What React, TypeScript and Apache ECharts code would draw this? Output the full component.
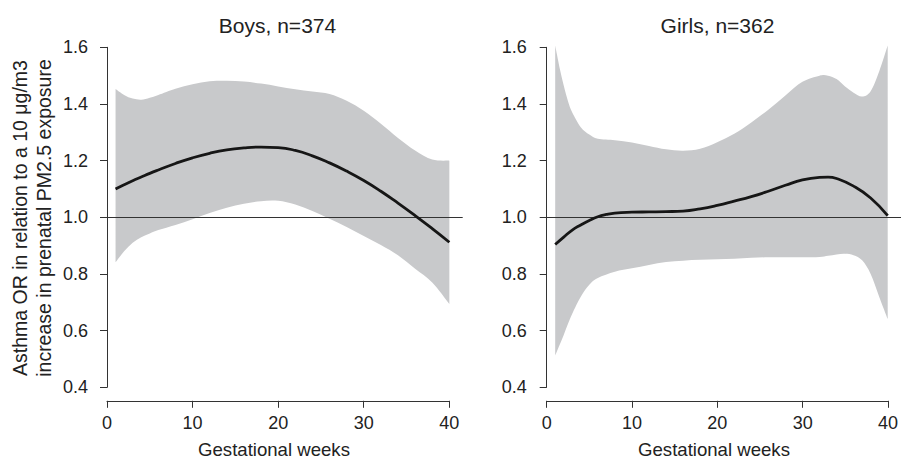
import React, { useEffect, useRef } from "react";
import * as echarts from "echarts";

// ---- Data ----
const boysWeeks = [1, 2, 3, 4, 5, 6, 8, 10, 12, 14, 16, 18, 20, 22, 24, 26, 28, 30, 32, 34, 36, 38, 40];
const boysUpper = [1.453, 1.432, 1.419, 1.415, 1.422, 1.432, 1.454, 1.47, 1.48, 1.482, 1.479, 1.472, 1.462, 1.452, 1.444, 1.435, 1.411, 1.376, 1.33, 1.28, 1.236, 1.204, 1.2];
const boysLower = [0.841, 0.88, 0.91, 0.93, 0.943, 0.955, 0.973, 0.993, 1.015, 1.034, 1.048, 1.057, 1.058, 1.045, 1.022, 0.995, 0.966, 0.934, 0.902, 0.866, 0.818, 0.77, 0.694];
const boysFit = [1.1, 1.115, 1.129, 1.142, 1.155, 1.167, 1.19, 1.21, 1.226, 1.238, 1.245, 1.248, 1.246, 1.236, 1.217, 1.192, 1.163, 1.13, 1.092, 1.05, 1.006, 0.96, 0.912];

const girlsBandWeeks = [1, 1.5, 2, 2.5, 3, 4, 5, 6, 8, 10, 12, 14, 16, 18, 20, 22, 24, 26, 28, 30, 32, 33, 34, 35, 36, 37, 38, 39, 40];
const girlsUpper = [1.606, 1.53, 1.465, 1.41, 1.37, 1.318, 1.292, 1.277, 1.272, 1.264, 1.252, 1.24, 1.235, 1.242, 1.265, 1.295, 1.335, 1.38, 1.43, 1.478, 1.5, 1.5, 1.488, 1.462, 1.44, 1.426, 1.445, 1.515, 1.606];
const girlsLower = [0.512, 0.548, 0.585, 0.624, 0.66, 0.72, 0.762, 0.786, 0.808, 0.82, 0.832, 0.842, 0.847, 0.85, 0.852, 0.854, 0.857, 0.859, 0.859, 0.859, 0.86, 0.864, 0.869, 0.871, 0.866, 0.848, 0.8, 0.72, 0.641];
const girlsFitWeeks = [1, 2, 3, 4, 5, 6, 7, 8, 10, 12, 14, 16, 18, 20, 22, 24, 26, 28, 30, 32, 33, 34, 36, 38, 40];
const girlsFit = [0.904, 0.93, 0.955, 0.973, 0.989, 1.002, 1.01, 1.015, 1.018, 1.019, 1.02, 1.022, 1.03, 1.042, 1.057, 1.073, 1.092, 1.113, 1.132, 1.141, 1.142, 1.137, 1.11, 1.068, 1.006];

const panelTitles = ["Boys, n=374", "Girls, n=362"];
const xAxisTitle = "Gestational weeks";
const yAxisTitle = "Asthma OR in relation to a 10 \u03bcg/m3\nincrease in prenatal PM2.5 exposure";
const referenceOR = 1.0;

const xTickMin = 0;
const xTickMax = 40;
const xTickStep = 10;
const yTickMin = 0.4;
const yTickMax = 1.6;
const yTickStep = 0.2;

const FONT = "Liberation Sans, Arial, Helvetica, sans-serif";
const TEXT = "#222";
const BAND = "#c8c9cb";

// Catmull-Rom spline through screen points, as cubic bezier commands
function splineCmds(pts: number[][]): string {
  let d = "";
  const n = pts.length;
  for (let i = 0; i < n - 1; i++) {
    const p0 = pts[Math.max(0, i - 1)];
    const p1 = pts[i];
    const p2 = pts[i + 1];
    const p3 = pts[Math.min(n - 1, i + 2)];
    const c1x = p1[0] + (p2[0] - p0[0]) / 6;
    const c1y = p1[1] + (p2[1] - p0[1]) / 6;
    const c2x = p2[0] - (p3[0] - p1[0]) / 6;
    const c2y = p2[1] - (p3[1] - p1[1]) / 6;
    d += ` C${c1x},${c1y} ${c2x},${c2y} ${p2[0]},${p2[1]}`;
  }
  return d;
}

function bandSeries(idx: number, weeks: number[], upper: number[], lower: number[]) {
  return {
    type: "custom",
    xAxisIndex: idx,
    yAxisIndex: idx,
    z: 1,
    silent: true,
    data: [[weeks[0], upper[0]]],
    renderItem: (_p: any, api: any) => {
      const up = weeks.map((w, i) => api.coord([w, upper[i]]));
      const lo = weeks.map((w, i) => api.coord([w, lower[i]])).reverse();
      const d =
        `M${up[0][0]},${up[0][1]}` +
        splineCmds(up) +
        ` L${lo[0][0]},${lo[0][1]}` +
        splineCmds(lo) +
        " Z";
      return { type: "path", shape: { pathData: d }, style: { fill: BAND, stroke: null } };
    },
  };
}

function fitSeries(idx: number, weeks: number[], fit: number[]) {
  return {
    type: "line",
    xAxisIndex: idx,
    yAxisIndex: idx,
    z: 3,
    smooth: 0.5,
    showSymbol: false,
    silent: true,
    data: weeks.map((w, i) => [w, fit[i]]),
    lineStyle: { color: "#161616", width: 2.8 },
    markLine: {
      silent: true,
      symbol: ["none", "none"],
      label: { show: false },
      lineStyle: { color: "#333", width: 1.2, type: "solid" },
      data: [{ yAxis: referenceOR }],
      z: 2,
    },
  };
}

function hiddenX(grid: number) {
  return { gridIndex: grid, type: "value", min: -0.56, max: 41.56, show: false };
}
function hiddenY(grid: number) {
  return { gridIndex: grid, type: "value", min: 0.352, max: 1.648, show: false };
}
const axisLine = { show: true, lineStyle: { color: "#333", width: 1 } };
const axisTick = { show: true, length: 7, lineStyle: { color: "#333", width: 1 } };

function shownX(grid: number) {
  return {
    gridIndex: grid,
    type: "value",
    min: xTickMin,
    max: xTickMax,
    interval: xTickStep,
    offset: 13.5,
    axisLine,
    axisTick,
    splitLine: { show: false },
    axisLabel: { fontSize: 18, color: TEXT, fontFamily: FONT, margin: 13 },
  };
}
function shownY(grid: number, offset: number) {
  return {
    gridIndex: grid,
    type: "value",
    min: yTickMin,
    max: yTickMax,
    interval: yTickStep,
    offset,
    axisLine,
    axisTick,
    splitLine: { show: false },
    axisLabel: {
      fontSize: 18,
      color: TEXT,
      fontFamily: FONT,
      margin: 15,
      formatter: (v: number) => v.toFixed(1),
    },
  };
}

export default function App() {
  const ref = useRef<HTMLDivElement>(null);
  useEffect(() => {
    if (!ref.current) return;
    const chart = echarts.init(ref.current, undefined, { renderer: "svg" });
    const textStyle = (size: number) => ({ fill: TEXT, fontSize: size, fontFamily: FONT });
    chart.setOption({
      animation: false,
      backgroundColor: "#fff",
      grid: [
        { left: 102.2, top: 33.7, width: 360.5, height: 367.2 },
        { left: 541.9, top: 33.7, width: 360.5, height: 367.2 },
        { left: 107, top: 47.3, width: 342.3, height: 340 },
        { left: 546.7, top: 47.3, width: 342.3, height: 340 },
      ],
      xAxis: [hiddenX(0), hiddenX(1), shownX(2), shownX(3)],
      yAxis: [hiddenY(0), hiddenY(1), shownY(2, 4), shownY(3, 5)],
      series: [
        bandSeries(0, boysWeeks, boysUpper, boysLower),
        fitSeries(0, boysWeeks, boysFit),
        bandSeries(1, girlsBandWeeks, girlsUpper, girlsLower),
        fitSeries(1, girlsFitWeeks, girlsFit),
      ],
      graphic: [
        { type: "text", x: 277.5, y: 25, style: { ...textStyle(21), text: panelTitles[0], align: "center", verticalAlign: "middle" } },
        { type: "text", x: 717.5, y: 25, style: { ...textStyle(21), text: panelTitles[1], align: "center", verticalAlign: "middle" } },
        { type: "text", x: 274, y: 449, style: { ...textStyle(18.6), lineHeight: 15, text: xAxisTitle, align: "center", verticalAlign: "middle" } },
        { type: "text", x: 714, y: 449, style: { ...textStyle(18.6), lineHeight: 15, text: xAxisTitle, align: "center", verticalAlign: "middle" } },
        {
          type: "text",
          x: 32,
          y: 218,
          rotation: Math.PI / 2,
          style: { ...textStyle(19.5), text: yAxisTitle, align: "center", verticalAlign: "middle", lineHeight: 23.5 },
        },
      ],
    });
    return () => chart.dispose();
  }, []);
  return <div ref={ref} style={{ position: "absolute", left: 0, top: 0, width: 901, height: 458 }} />;
}
